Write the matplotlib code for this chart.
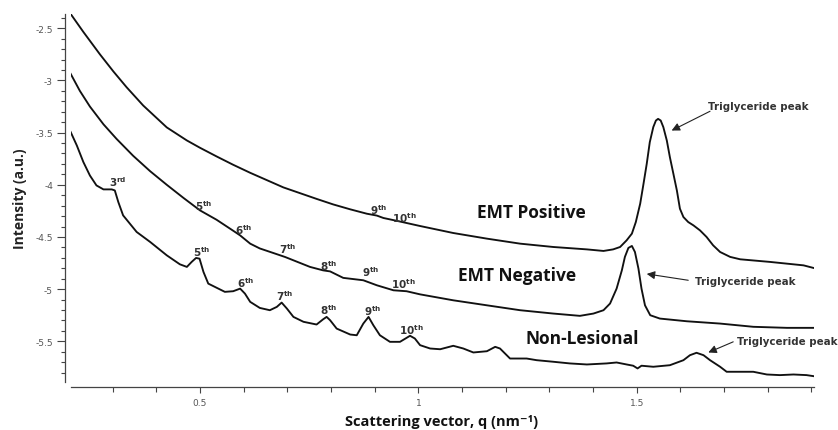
import numpy as np
import matplotlib.pyplot as plt
from matplotlib.ticker import MultipleLocator, FuncFormatter

plt.rcParams['mathtext.fontset'] = 'dejavusans'

# scattering curves: q in nm^-1, log intensity in a.u.
q_pos = [0.204, 0.233, 0.271, 0.302, 0.332, 0.370, 0.424, 0.470, 0.500, 0.538,
         0.576, 0.615, 0.653, 0.691, 0.729, 0.767, 0.805, 0.844, 0.882, 0.905,
         0.920, 0.958, 1.004, 1.080, 1.157, 1.233, 1.309, 1.386, 1.424, 1.446,
         1.462, 1.477, 1.489, 1.498, 1.508, 1.515, 1.523, 1.530, 1.538, 1.544,
         1.549, 1.555, 1.561, 1.569, 1.576, 1.584, 1.592, 1.599, 1.607, 1.618,
         1.630, 1.645, 1.660, 1.675, 1.691, 1.714, 1.737, 1.805, 1.882, 1.905]
i_pos = [-2.363, -2.535, -2.750, -2.915, -3.065, -3.240, -3.450, -3.575, -3.645, -3.728,
         -3.808, -3.885, -3.955, -4.025, -4.080, -4.135, -4.188, -4.235, -4.277, -4.295,
         -4.318, -4.352, -4.395, -4.462, -4.516, -4.564, -4.596, -4.619, -4.634, -4.619,
         -4.596, -4.532, -4.468, -4.357, -4.181, -4.006, -3.799, -3.591, -3.447, -3.384,
         -3.368, -3.384, -3.447, -3.576, -3.735, -3.894, -4.054, -4.229, -4.309, -4.357,
         -4.389, -4.437, -4.500, -4.580, -4.644, -4.691, -4.714, -4.739, -4.772, -4.797]

q_neg = [0.204, 0.225, 0.248, 0.279, 0.309, 0.347, 0.386, 0.424, 0.462, 0.500, 0.538,
         0.576, 0.592, 0.615, 0.637, 0.676, 0.695, 0.752, 0.782, 0.798, 0.828,
         0.874, 0.905, 0.943, 0.973, 1.004, 1.080, 1.157, 1.233, 1.309, 1.370,
         1.401, 1.424, 1.439, 1.454, 1.466, 1.473, 1.481, 1.489, 1.496, 1.504,
         1.511, 1.519, 1.531, 1.553, 1.615, 1.691, 1.767, 1.844, 1.905]
i_neg = [-2.937, -3.100, -3.250, -3.420, -3.560, -3.722, -3.870, -4.000, -4.125, -4.245, -4.335,
         -4.440, -4.485, -4.564, -4.610, -4.665, -4.692, -4.787, -4.820, -4.830, -4.892,
         -4.915, -4.963, -5.011, -5.020, -5.050, -5.107, -5.155, -5.202, -5.234, -5.256,
         -5.234, -5.202, -5.138, -4.995, -4.820, -4.691, -4.605, -4.586, -4.644, -4.803,
         -4.995, -5.155, -5.250, -5.282, -5.308, -5.330, -5.361, -5.371, -5.371]

q_nl = [0.204, 0.218, 0.233, 0.248, 0.263, 0.279, 0.298, 0.305, 0.313, 0.324,
        0.355, 0.386, 0.424, 0.454, 0.470, 0.481, 0.491, 0.499, 0.508, 0.519,
        0.557, 0.576, 0.592, 0.603, 0.615, 0.637, 0.660, 0.676, 0.687, 0.699,
        0.714, 0.737, 0.767, 0.782, 0.790, 0.798, 0.813, 0.844, 0.859, 0.874,
        0.886, 0.897, 0.912, 0.935, 0.958, 0.981, 0.992, 1.004, 1.027, 1.050,
        1.080, 1.103, 1.126, 1.157, 1.176, 1.187, 1.210, 1.248, 1.271, 1.309,
        1.347, 1.386, 1.431, 1.454, 1.477, 1.492, 1.502, 1.511, 1.538, 1.576,
        1.607, 1.622, 1.637, 1.653, 1.668, 1.691, 1.706, 1.737, 1.767, 1.798,
        1.828, 1.859, 1.889, 1.905]
i_nl = [-3.495, -3.623, -3.782, -3.911, -4.006, -4.044, -4.044, -4.054, -4.165, -4.293,
        -4.452, -4.548, -4.676, -4.762, -4.787, -4.739, -4.701, -4.708, -4.835, -4.947,
        -5.026, -5.020, -4.995, -5.043, -5.122, -5.180, -5.202, -5.170, -5.129, -5.186,
        -5.266, -5.313, -5.339, -5.289, -5.266, -5.298, -5.378, -5.435, -5.442, -5.330,
        -5.266, -5.346, -5.442, -5.505, -5.505, -5.447, -5.473, -5.537, -5.569, -5.576,
        -5.543, -5.569, -5.607, -5.595, -5.553, -5.569, -5.665, -5.665, -5.681, -5.696,
        -5.712, -5.722, -5.712, -5.703, -5.722, -5.734, -5.760, -5.734, -5.744, -5.729,
        -5.681, -5.633, -5.610, -5.633, -5.681, -5.744, -5.792, -5.792, -5.792, -5.818,
        -5.824, -5.818, -5.824, -5.834]

# Bragg order labels (number, superscript) and where they sit
orders_nl = [('3', 'rd'), ('5', 'th'), ('6', 'th'), ('7', 'th'), ('8', 'th'), ('9', 'th'), ('10', 'th')]
orders_nl_xy = [(0.312, -3.96), (0.504, -4.64), (0.604, -4.935), (0.695, -5.06),
                (0.795, -5.19), (0.896, -5.20), (0.983, -5.38)]
orders_neg = [('5', 'th'), ('6', 'th'), ('7', 'th'), ('8', 'th'), ('9', 'th'), ('10', 'th')]
orders_neg_xy = [(0.508, -4.195), (0.600, -4.42), (0.702, -4.61), (0.795, -4.765),
                 (0.892, -4.83), (0.965, -4.945)]
orders_pos = [('9', 'th'), ('10', 'th')]
orders_pos_xy = [(0.910, -4.23), (0.967, -4.305)]

sample_names = ['EMT Positive', 'EMT Negative', 'Non-Lesional']
sample_xy = [(1.258, -4.258), (1.226, -4.861), (1.375, -5.464)]

# triglyceride arrows: (text anchor, arrow tail, arrow tip)
tg_text = [(1.664, -3.244), (1.633, -4.918), (1.729, -5.50)]
tg_tail = [(1.668, -3.295), (1.618, -4.915), (1.721, -5.505)]
tg_tip = [(1.580, -3.480), (1.523, -4.854), (1.664, -5.607)]

W, H = 838, 431
fig = plt.figure(figsize=(W / 100, H / 100), dpi=100)
ax = fig.add_axes([70.7 / W, (H - 383) / H, (814 - 70.7) / W, (383 - 15) / H])

for q, i in [(q_pos, i_pos), (q_neg, i_neg), (q_nl, i_nl)]:
    ax.plot(q, i, color='#111111', lw=1.35, solid_joinstyle='round')

ax.set_xlim(0.204, 1.906)
ax.set_ylim(-5.89, -2.363)

for s in ['top', 'right']:
    ax.spines[s].set_visible(False)
ax.spines['left'].set_position(('outward', 4.2))
ax.spines['bottom'].set_position(('outward', 3.6))
for s in ['left', 'bottom']:
    ax.spines[s].set_color('#444444')
    ax.spines[s].set_linewidth(0.9)

ax.xaxis.set_major_locator(MultipleLocator(0.5))
ax.xaxis.set_minor_locator(MultipleLocator(0.1))
ax.yaxis.set_major_locator(MultipleLocator(0.5))
ax.yaxis.set_minor_locator(MultipleLocator(0.1))
fmt = FuncFormatter(lambda v, p: f'{v:g}')
ax.xaxis.set_major_formatter(fmt)
ax.yaxis.set_major_formatter(fmt)
ax.tick_params(axis='both', which='both', color='#444444', width=0.8,
               labelsize=6.5, labelcolor='#555555')
ax.tick_params(axis='y', which='major', length=5.5, pad=3)
ax.tick_params(axis='y', which='minor', length=3)
ax.tick_params(axis='x', which='major', length=4, pad=4)
ax.tick_params(axis='x', which='minor', length=3.5)

lbl = dict(fontsize=7.5, color='#333333', ha='center', va='center')
for names, xy in [(orders_nl, orders_nl_xy), (orders_neg, orders_neg_xy), (orders_pos, orders_pos_xy)]:
    for (n, sup), (x, y) in zip(names, xy):
        ax.text(x, y, r'$\mathbf{' + n + r'^{' + sup + r'}}$', **lbl)

for name, (x, y) in zip(sample_names, sample_xy):
    ax.text(x, y, name, fontsize=12.5, fontweight='bold', family=['Open Sans', 'DejaVu Sans'],
            ha='center', va='center', color='#111111')

for t, tail, tip in zip(tg_text, tg_tail, tg_tip):
    ax.text(t[0], t[1], 'Triglyceride peak', fontsize=7.4, fontweight='bold',
            color='#333333', ha='left', va='center', clip_on=False)
    ax.annotate('', xy=tip, xytext=tail,
                arrowprops=dict(arrowstyle='-|>', color='#222222', lw=0.8,
                                mutation_scale=12, shrinkA=0, shrinkB=0))

fig.text(20 / W, 1 - 199 / H, 'Intensity (a.u.)', rotation=90, ha='center', va='center',
         fontsize=10, fontweight='bold', family=['Open Sans', 'DejaVu Sans'],
         color='#222222')
fig.text(441.7 / W, 1 - 422 / H, 'Scattering vector, q (nm⁻¹)', ha='center', va='center',
         fontsize=10.5, fontweight='bold', family=['Open Sans', 'DejaVu Sans'], color='#111111')

fig.savefig('out.png', dpi=100, facecolor='white')
